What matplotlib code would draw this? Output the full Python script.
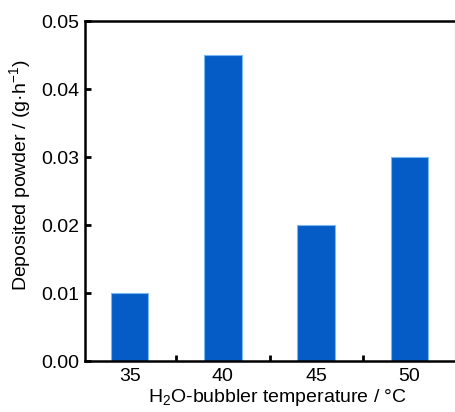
import matplotlib
matplotlib.use("Agg")
import matplotlib.pyplot as plt
import numpy as np

categories = ["35", "40", "45", "50"]
values = [0.010, 0.045, 0.020, 0.030]
yticks = [0.00, 0.01, 0.02, 0.03, 0.04, 0.05]

plt.rcParams['font.family'] = ['Liberation Sans', 'DejaVu Sans']
plt.rcParams['mathtext.fontset'] = 'custom'
plt.rcParams['mathtext.rm'] = 'Liberation Sans'
plt.rcParams['mathtext.it'] = 'Liberation Sans:italic'

fig = plt.figure(figsize=(4.56, 4.12), dpi=100)
ax = fig.add_axes([85/456, 1-361/412, 370/456, 340/412])

x = np.arange(len(categories))
ax.bar(x, values, width=0.4, color='#065cc6', edgecolor='#7ab8f0', linewidth=0.8)

ax.set_xlim(-0.48, 3.49)
ax.set_ylim(0, 0.05)
ax.set_xticks(x)
ax.set_xticklabels(categories)
ax.set_xticks([0.5, 1.5, 2.5], minor=True)
ax.set_yticks(yticks)
ax.set_yticklabels([f"{v:.2f}" for v in yticks])
ax.tick_params(axis='x', which='major', length=0, labelsize=14, pad=5)
ax.tick_params(axis='x', which='minor', direction='in', length=4, width=2)
ax.tick_params(axis='y', direction='in', length=4, width=2, labelsize=14, pad=4)

for s in ['left', 'bottom', 'top']:
    ax.spines[s].set_linewidth(1.8)
    ax.spines[s].set_color('black')
ax.spines['right'].set_linewidth(0.8)
ax.spines['right'].set_color('#777777')

ax.set_xlabel("H$_2$O-bubbler temperature / °C", fontsize=14, labelpad=2)
ax.set_ylabel("Deposited powder / (g·h$^{-1}$)", fontsize=14, labelpad=6)
ax.xaxis.set_label_coords(0.52, -0.075)
ax.yaxis.set_label_coords(-0.14, 0.547)

fig.savefig("out.png", dpi=100)
